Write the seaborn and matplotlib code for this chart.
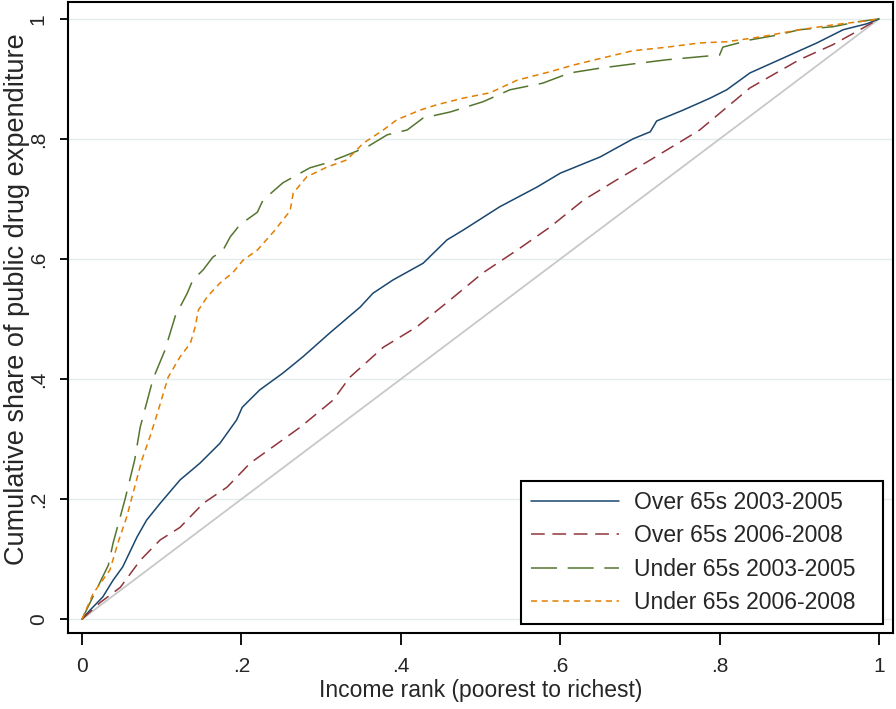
import matplotlib
matplotlib.use("Agg")
import matplotlib.pyplot as plt
import seaborn as sns
import pandas as pd
import numpy as np

# ---- data ----
over03_x = [0, 0.010, 0.026, 0.039, 0.051, 0.069, 0.081, 0.098, 0.123, 0.148, 0.173, 0.194, 0.201,
            0.223, 0.252, 0.277, 0.311, 0.349, 0.365, 0.390, 0.428, 0.458, 0.478, 0.524, 0.571,
            0.600, 0.650, 0.691, 0.713, 0.721, 0.754, 0.788, 0.809, 0.838, 0.880, 0.922, 0.955,
            0.985, 1.0]
over03_y = [0, 0.015, 0.037, 0.065, 0.087, 0.137, 0.165, 0.193, 0.232, 0.260, 0.293, 0.332, 0.353,
            0.382, 0.410, 0.437, 0.477, 0.520, 0.543, 0.565, 0.593, 0.632, 0.648, 0.687, 0.720,
            0.743, 0.770, 0.800, 0.812, 0.830, 0.848, 0.868, 0.882, 0.910, 0.935, 0.960, 0.982,
            0.992, 1.0]

over06_x = [0, 0.023, 0.048, 0.073, 0.098, 0.123, 0.152, 0.182, 0.211, 0.274, 0.315, 0.336, 0.378,
            0.420, 0.462, 0.503, 0.546, 0.587, 0.629, 0.671, 0.713, 0.754, 0.775, 0.838, 0.900,
            0.942, 0.976, 1.0]
over06_y = [0, 0.028, 0.053, 0.098, 0.132, 0.153, 0.193, 0.220, 0.260, 0.320, 0.365, 0.403, 0.453,
            0.487, 0.532, 0.577, 0.615, 0.653, 0.698, 0.732, 0.765, 0.798, 0.815, 0.885, 0.932,
            0.957, 0.982, 1.0]

under03_x = [0, 0.033, 0.039, 0.054, 0.066, 0.073, 0.089, 0.104, 0.117, 0.132, 0.139, 0.152, 0.164,
             0.177, 0.186, 0.198, 0.220, 0.227, 0.252, 0.286, 0.307, 0.332, 0.358, 0.383, 0.408,
             0.428, 0.462, 0.503, 0.537, 0.578, 0.612, 0.650, 0.691, 0.734, 0.775, 0.800, 0.804,
             0.838, 0.872, 0.900, 0.942, 0.972, 1.0]
under03_y = [0, 0.090, 0.127, 0.200, 0.265, 0.320, 0.400, 0.448, 0.505, 0.543, 0.565, 0.582, 0.603,
             0.615, 0.637, 0.657, 0.678, 0.698, 0.727, 0.752, 0.760, 0.773, 0.787, 0.807, 0.815,
             0.835, 0.845, 0.862, 0.882, 0.893, 0.910, 0.918, 0.925, 0.932, 0.937, 0.940, 0.953,
             0.965, 0.973, 0.982, 0.987, 0.995, 1.0]

under06_x = [0, 0.014, 0.035, 0.045, 0.056, 0.066, 0.075, 0.085, 0.095, 0.108, 0.123, 0.136, 0.142,
             0.146, 0.157, 0.173, 0.189, 0.202, 0.220, 0.240, 0.252, 0.261, 0.265, 0.282, 0.307,
             0.332, 0.353, 0.378, 0.395, 0.424, 0.445, 0.478, 0.512, 0.546, 0.587, 0.616, 0.650,
             0.691, 0.734, 0.775, 0.809, 0.851, 0.900, 0.942, 0.985, 1.0]
under06_y = [0, 0.043, 0.082, 0.127, 0.170, 0.220, 0.265, 0.303, 0.345, 0.403, 0.437, 0.460, 0.487,
             0.515, 0.537, 0.560, 0.577, 0.598, 0.615, 0.645, 0.665, 0.680, 0.710, 0.737, 0.753,
             0.765, 0.793, 0.815, 0.832, 0.848, 0.857, 0.868, 0.877, 0.898, 0.912, 0.923, 0.934,
             0.947, 0.953, 0.960, 0.962, 0.970, 0.982, 0.990, 0.997, 1.0]

labels = ["Over 65s 2003-2005", "Over 65s 2006-2008", "Under 65s 2003-2005", "Under 65s 2006-2008"]
tick_vals = [0, 0.2, 0.4, 0.6, 0.8, 1.0]
tick_labels = ["0", ".2", ".4", ".6", ".8", "1"]

series = [(over03_x, over03_y), (over06_x, over06_y), (under03_x, under03_y), (under06_x, under06_y)]
colors = ["#1a476f", "#90353b", "#55752f", "#e37e00"]
styles = ["-", (0, (9, 5)), (0, (17, 7)), (0, (4, 3))]

sns.set_theme(style="white")
plt.rcParams["font.family"] = ["Liberation Sans", "DejaVu Sans"]

fig = plt.figure(figsize=(8.96, 7.09), dpi=100)
ax = fig.add_axes([0.0759, 0.1072, 0.9208, 0.8898])

# equality line
diag = pd.DataFrame({"x": [0.0, 1.0], "y": [0.0, 1.0]})
sns.lineplot(data=diag, x="x", y="y", ax=ax, color="#c8c8c8", lw=1.3, legend=False)

for (xs, ys), lab, c, ls in zip(series, labels, colors, styles):
    df = pd.DataFrame({"x": xs, "y": ys})
    sns.lineplot(data=df, x="x", y="y", ax=ax, color=c, lw=1.1, linestyle=ls, label=lab,
                 estimator=None)

ax.set_xlim(-0.0176, 1.0176)
ax.set_ylim(-0.023, 1.028)
ax.set_xticks(tick_vals)
ax.set_xticklabels(tick_labels)
ax.set_yticks(tick_vals)
ax.set_yticklabels(tick_labels, rotation=90, va="center")
ax.grid(axis="y", color="#e3ecef", lw=1.0)
ax.grid(axis="x", visible=False)
ax.set_axisbelow(True)

for s in ax.spines.values():
    s.set_color("black")
    s.set_linewidth(1.5)

ax.tick_params(axis="x", direction="out", length=8.5, width=1.3, color="black", pad=8.5,
               labelsize=15, bottom=True)
ax.tick_params(axis="y", direction="out", length=6, width=1.3, color="black", pad=8.5,
               labelsize=15, left=True)

ax.set_xlabel("Income rank (poorest to richest)", fontsize=16.5)
ax.xaxis.set_label_coords(0.5, -0.0723)
ax.set_ylabel("Cumulative share of public drug expenditure", fontsize=19.5)
ax.yaxis.set_label_coords(-0.046, 0.53)

leg = ax.legend(loc="lower left", bbox_to_anchor=(0.549, 0.0143, 0.439, 0.2),
                mode="expand", fontsize=16.5,
                frameon=True, fancybox=False, framealpha=1, edgecolor="black",
                handlelength=3.85, handletextpad=0.65, labelspacing=0.46,
                borderpad=0.42, borderaxespad=0)
leg.get_frame().set_linewidth(1.5)

fig.savefig("out.png", dpi=100)
